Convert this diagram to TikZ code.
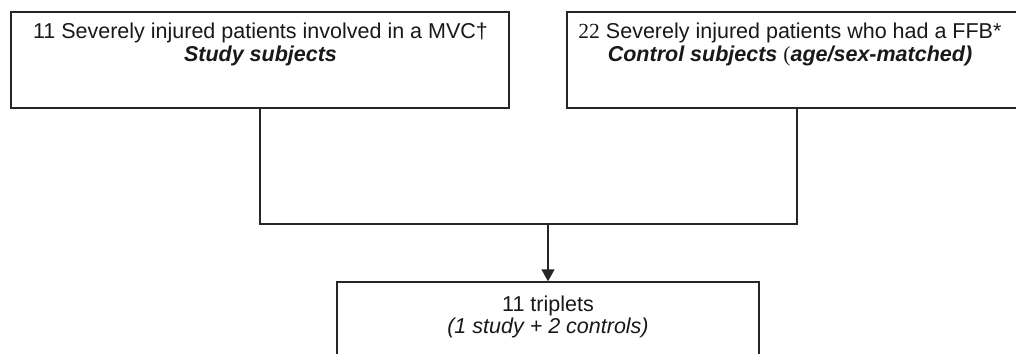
\documentclass[tikz,border=0pt]{standalone}
\usepackage{fontspec}
\setmainfont{Liberation Sans}
\newfontfamily\serifnum{Liberation Serif}
\usetikzlibrary{arrows.meta}
\begin{document}
\begin{tikzpicture}[x=1pt,y=-1pt,
  box/.style={draw=black!85,line width=1.4pt,minimum width=#1,inner sep=0pt},
  txt/.style={anchor=base,inner sep=0pt,font=\fontsize{21.5}{22}\selectfont},
  conn/.style={draw=black!85,line width=1.4pt},
  every node/.append style={text=black!90}]
\clip (0,0) rectangle (1016,353);
\fill[white] (0,0) rectangle (1016,353);
% boxes
\node[box=498pt,minimum height=96pt] (study) at (260,60) {};
\node[box=460pt,minimum height=96pt] (ctrl) at (797,60) {};
\node[box=422pt,minimum height=120pt] (trip) at (548,342) {};
% texts
\node[txt] (t1a) at (260.5,39) {11 Severely injured patients involved in a MVC\textdagger};
\node[txt] (t1b) at (260.5,61) {\textbf{\textit{Study subjects}}};
\node[txt] (t2a) at (790,39) {{\serifnum 22} Severely injured patients who had a FFB*};
\node[txt] (t2b) at (790,61) {\textbf{\textit{Control subjects}} {\serifnum (}\textbf{\textit{age/sex-matched)}}};
\node[txt] (t3a) at (548,311) {11 triplets};
\node[txt] (t3b) at (548,333) {\textit{(1 study + 2 controls)}};
% connectors
\coordinate (jl) at (study.south |- 0,224);
\coordinate (jr) at (ctrl.south |- 0,224);
\coordinate (jm) at (trip.north |- 0,224);
\draw[conn] (study.south) -- (jl) -- (jr) -- (ctrl.south);
\draw[conn,-{Triangle[length=12pt,width=13pt]}] (jm) -- (trip.north);
\end{tikzpicture}
\end{document}
